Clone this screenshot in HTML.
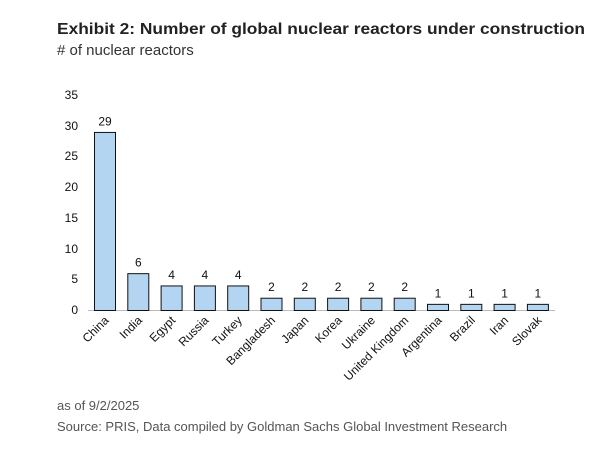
<!DOCTYPE html>
<html><head><style>body{margin:0;background:#fff}</style></head><body>
<svg width="611" height="444" xmlns="http://www.w3.org/2000/svg" font-family="Liberation Sans, Arial, sans-serif">
<text x="57" y="34" font-size="16" font-weight="bold" fill="#222" textLength="528" lengthAdjust="spacingAndGlyphs">Exhibit 2: Number of global nuclear reactors under construction</text>
<text x="57" y="55" font-size="15" fill="#333">	# of nuclear reactors</text>
<g font-size="12" fill="#111" text-anchor="end">
<text x="78" y="314">0</text><text x="78" y="283">5</text><text x="78" y="253">10</text><text x="78" y="222">15</text><text x="78" y="191">20</text><text x="78" y="160">25</text><text x="78" y="130">30</text><text x="78" y="99">35</text>
</g>
<line x1="88" y1="310.5" x2="555" y2="310.5" stroke="#bbb" stroke-width="1"/>
<g id="bars" fill="#b3d5f2" stroke="#111" stroke-width="1"></g>
<g id="vals" font-size="12" fill="#111" text-anchor="middle"></g>
<g id="labs" font-size="12" fill="#111" text-anchor="end"></g>
<text x="57" y="410" font-size="13" fill="#555">as of 9/2/2025</text>
<text x="57" y="431" font-size="13" fill="#555">Source: PRIS, Data compiled by Goldman Sachs Global Investment Research</text>
<script>
var n=["China","India","Egypt","Russia","Turkey","Bangladesh","Japan","Korea","Ukraine","United Kingdom","Argentina","Brazil","Iran","Slovak"],v=[29,6,4,4,4,2,2,2,2,2,1,1,1,1];
var ns="http://www.w3.org/2000/svg",b=document.getElementById("bars"),va=document.getElementById("vals"),la=document.getElementById("labs");
for(var i=0;i<14;i++){var x=94.5+i*33.3,h=v[i]*6.14,y=310.5-h;
var r=document.createElementNS(ns,"rect");r.setAttribute("x",x);r.setAttribute("y",y);r.setAttribute("width",21);r.setAttribute("height",h);b.appendChild(r);
var t=document.createElementNS(ns,"text");t.setAttribute("x",x+10.5);t.setAttribute("y",y-7);t.textContent=v[i];va.appendChild(t);
var l=document.createElementNS(ns,"text");var cx=x+15,cy=321;l.setAttribute("x",cx);l.setAttribute("y",cy);l.setAttribute("transform","rotate(-45 "+cx+" "+cy+")");l.textContent=n[i];la.appendChild(l);}
</script>
</svg>
</body></html>
